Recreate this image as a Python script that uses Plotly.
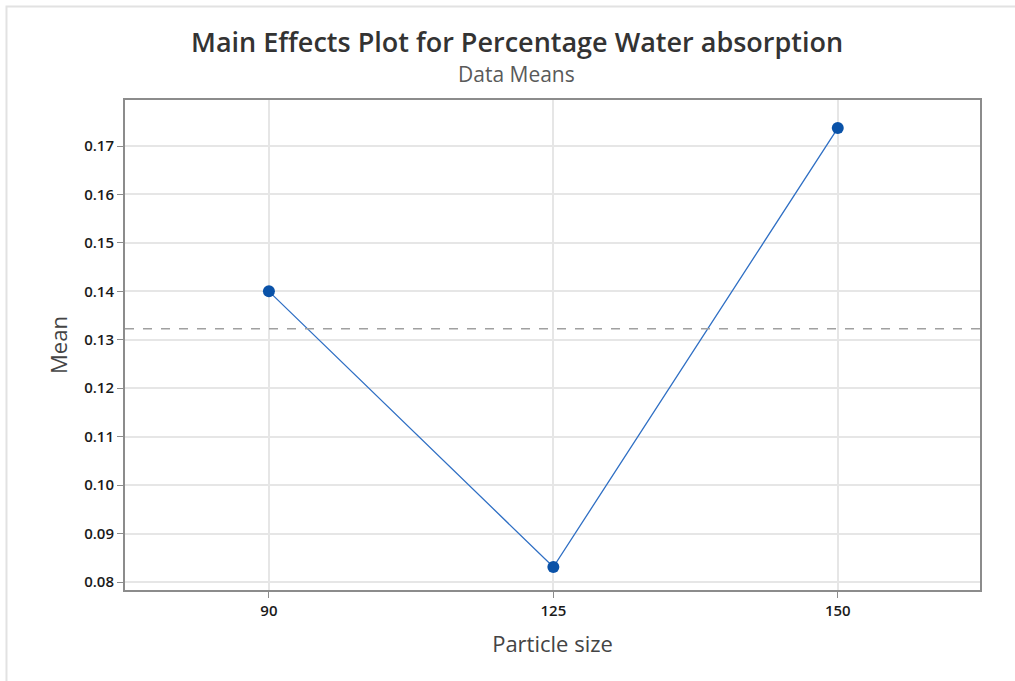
import plotly.graph_objects as go

# Main effect of particle size on percentage water absorption (data means)
particle_size = ["90", "125", "150"]
mean_absorption = [0.1400, 0.0831, 0.1737]
grand_mean = sum(mean_absorption) / len(mean_absorption)

y_ticks = [0.08, 0.09, 0.10, 0.11, 0.12, 0.13, 0.14, 0.15, 0.16, 0.17]
y_tick_text = ["0.08", "0.09", "0.10", "0.11", "0.12", "0.13", "0.14", "0.15", "0.16", "0.17"]

FONT = "Open Sans, Noto Sans, DejaVu Sans, sans-serif"

fig = go.Figure()

fig.add_trace(go.Scatter(
    x=particle_size,
    y=mean_absorption,
    mode="lines+markers",
    line=dict(color="#2f6fc4", width=1.3),
    marker=dict(color="#0a52a8", size=12),
    showlegend=False,
    hoverinfo="x+y",
))

# Overall mean reference line
fig.add_shape(
    type="line", xref="paper", yref="y",
    x0=0, x1=1, y0=grand_mean, y1=grand_mean,
    line=dict(color="#a0a0a0", width=1.5, dash="dash"),
    layer="above",
)

# Light outer frame around the graph window
fig.add_shape(
    type="rect", xref="paper", yref="paper",
    x0=-0.1386, x1=1.06, y0=-0.2, y1=1.1908,
    line=dict(color="#e2e2e2", width=2),
    fillcolor="rgba(0,0,0,0)",
    layer="below",
)

# Title and subtitle
fig.add_annotation(
    text="Main Effects Plot for Percentage Water absorption",
    xref="paper", yref="paper", x=0.458, y=1.1184,
    xanchor="center", yanchor="middle", showarrow=False,
    font=dict(family=FONT, size=27, color="#333333", weight=600),
)
fig.add_annotation(
    text="Data Means",
    xref="paper", yref="paper", x=0.458, y=1.053,
    xanchor="center", yanchor="middle", showarrow=False,
    font=dict(family=FONT, size=21, color="#5a5a5a"),
)

fig.update_layout(
    width=1015,
    height=681,
    margin=dict(l=125, r=35, t=100, b=91),
    paper_bgcolor="white",
    plot_bgcolor="white",
    font=dict(family=FONT, color="#333333"),
    xaxis=dict(
        type="category",
        range=[-0.506, 2.5],
        showgrid=True, gridcolor="#e6e6e6", gridwidth=1.5,
        showline=True, linecolor="#8c8c8c", linewidth=2, mirror=True,
        ticks="outside", ticklen=6, tickcolor="#8c8c8c",
        tickfont=dict(size=15, color="#1a1a1a", weight=600),
        title=dict(text="Particle size", font=dict(size=22, color="#444444"), standoff=18),
        zeroline=False,
    ),
    yaxis=dict(
        range=[0.07835, 0.1795],
        tickvals=y_ticks,
        ticktext=y_tick_text,
        showgrid=True, gridcolor="#e6e6e6", gridwidth=1.5,
        showline=True, linecolor="#8c8c8c", linewidth=2, mirror=True,
        ticks="outside", ticklen=6, tickcolor="#8c8c8c",
        tickfont=dict(size=15, color="#1a1a1a", weight=600),
        title=dict(text="Mean", font=dict(size=22, color="#444444"), standoff=10),
        zeroline=False,
    ),
)

fig.write_html("out.html")
